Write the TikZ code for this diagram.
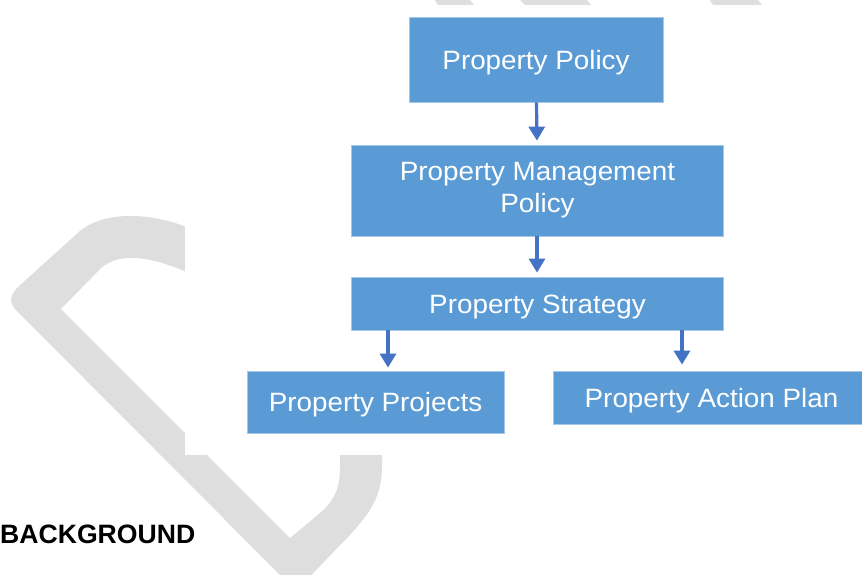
\documentclass[tikz,border=0pt]{standalone}
\usepackage{fontspec}
\setmainfont{Liberation Sans}
\newfontfamily\boxfont[FakeStretch=1.05]{Liberation Sans}
\usetikzlibrary{arrows.meta}

\definecolor{boxblue}{RGB}{91,155,213}
\definecolor{arrowblue}{RGB}{68,114,196}
\definecolor{markgray}{RGB}{222,222,222}

\tikzset{
  stepbox/.style={fill=boxblue, draw=boxblue!55!white, line width=0.8pt,
    inner sep=0pt, text=white, align=center,
    font=\boxfont\fontsize{26.5}{32}\selectfont},
  onebox/.style={stepbox, text height=19pt, text depth=0pt},
  flow/.style={draw=arrowblue, line width=3.2pt,
    -{Triangle[width=16pt,length=14pt]}},
  markfill/.style={fill=markgray},
}

\begin{document}
\begin{tikzpicture}[x=1pt, y=-1pt]
  \clip (0,0) rectangle (862,574);
  \fill[white] (0,0) rectangle (862,574);

  % grey emblem behind the chart
  \fill[markfill] (200,232) .. controls (175,222) and (155,216) .. (130,216)
    .. controls (110,216) and (92,221) .. (80,231) -- (18,287)
    .. controls (9,296) and (9,303) .. (17,311) -- (296,591) -- (345,540)
    .. controls (372,512) and (382,495) .. (382,465) -- (382,440)
    -- (340,440) -- (340,468) .. controls (340,490) and (333,502) .. (320,513)
    -- (290,538) -- (61,309) -- (102,267)
    .. controls (112,260) and (120,258) .. (132,258)
    .. controls (150,258) and (170,264) .. (200,278) -- cycle;
  \fill[markfill] (435,0) -- (470,0) -- (478,10) -- (441,10) -- cycle;
  \fill[markfill] (520,0) -- (587,0) -- (595,10) -- (530,10) -- cycle;
  \fill[markfill] (710,0) -- (758,0) -- (766,10) -- (716,10) -- cycle;

  % white panel carrying the chart
  \fill[white] (185,4.5) rectangle (870,455);

  % chart boxes
  \node[onebox, minimum width=254pt, minimum height=85pt] (policy) at (536,59.5)
    {Property Policy};
  \node[stepbox, minimum width=372pt, minimum height=91pt] (mgmt) at (537.5,190.5)
    {Property Management\\Policy};
  \node[onebox, minimum width=372pt, minimum height=53pt] (strategy) at (537.5,303.5)
    {Property Strategy};
  \node[onebox, minimum width=257pt, minimum height=62pt] (projects) at (375.5,402)
    {Property Projects};
  \node[onebox, minimum width=317pt, minimum height=53pt] (action) at (711.5,397.5)
    {Property Action Plan};

  % connectors
  \draw[flow, shorten >=4pt] ([xshift=0.5pt]policy.south) -- ([xshift=-0.5pt]mgmt.north);
  \draw[flow, shorten >=4pt] ([xshift=-0.5pt]mgmt.south) -- ([xshift=-0.5pt]strategy.north);
  \draw[flow, shorten >=3pt] ([xshift=-149.5pt]strategy.south) -- ([xshift=12.5pt]projects.north);
  \draw[flow, shorten >=6pt] ([xshift=144.5pt]strategy.south) -- ([xshift=-29.5pt]action.north);

  % heading below the chart
  \node[anchor=base west, inner sep=0pt, font=\bfseries\fontsize{26.6}{30}\selectfont]
    (heading) at (0,543) {BACKGROUND};
\end{tikzpicture}
\end{document}
